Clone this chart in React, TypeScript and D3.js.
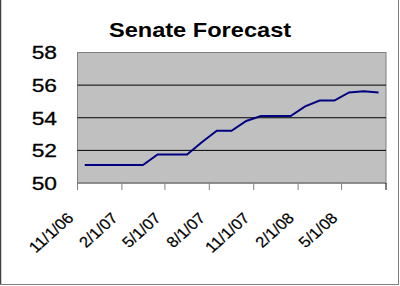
import { scaleLinear, scaleTime, line, timeMonth } from "d3";

// monthly forecast, Nov 2006 - Jul 2008
const months = [
  "2006-11", "2006-12", "2007-01", "2007-02", "2007-03", "2007-04", "2007-05",
  "2007-06", "2007-07", "2007-08", "2007-09", "2007-10", "2007-11", "2007-12",
  "2008-01", "2008-02", "2008-03", "2008-04", "2008-05", "2008-06", "2008-07",
];
const seats = [
  51.1, 51.1, 51.1, 51.1, 51.1, 51.75, 51.75,
  51.75, 52.5, 53.2, 53.2, 53.8, 54.1, 54.1,
  54.1, 54.7, 55.05, 55.05, 55.55, 55.62, 55.55,
];
const yTicks = [50, 52, 54, 56, 58];
const xTickLabels = ["11/1/06", "2/1/07", "5/1/07", "8/1/07", "11/1/07", "2/1/08", "5/1/08"];

const W = 400;
const H = 286;
const plot = { left: 77.5, right: 386, top: 52.5, bottom: 183 };

export default function App() {
  const start = new Date(2006, 10, 1);
  const end = new Date(2008, 7, 1);
  const x = scaleTime().domain([start, end]).range([plot.left, plot.right]);
  const y = scaleLinear().domain([50, 58]).range([plot.bottom, plot.top]);

  // points sit mid-month (between tick marks)
  const points = months.map((m, i) => {
    const [yr, mo] = m.split("-").map(Number);
    const d0 = new Date(yr, mo - 1, 1);
    const d1 = timeMonth.offset(d0, 1);
    const mid = new Date((d0.getTime() + d1.getTime()) / 2);
    return [x(mid), y(seats[i])] as [number, number];
  });

  const ticks = timeMonth.range(start, timeMonth.offset(end, 1), 3);
  const path = line()(points) ?? "";

  return (
    <svg
      width={W}
      height={H}
      style={{ position: "absolute", left: 0, top: 0, fontFamily: "Arial, 'Liberation Sans', sans-serif" }}
    >
      <rect x={0} y={0} width={W} height={H} fill="#fff" />
      {/* outer frame */}
      <line x1={0.5} y1={0} x2={0.5} y2={285} stroke="#404040" strokeWidth={1.5} />
      <line x1={0} y1={284.5} x2={399} y2={284.5} stroke="#808080" />
      <line x1={398.5} y1={0} x2={398.5} y2={285} stroke="#808080" />

      <text transform="translate(200,37) scale(1.18,1)" textAnchor="middle" fontSize={20} fontWeight="bold">
        Senate Forecast
      </text>

      <rect
        x={plot.left}
        y={plot.top}
        width={plot.right - plot.left}
        height={plot.bottom - plot.top}
        fill="#c0c0c0"
        stroke="#808080"
      />
      {yTicks.slice(1, -1).map((t) => (
        <line key={t} x1={plot.left} x2={plot.right} y1={y(t)} y2={y(t)} stroke="#000" strokeWidth={1} />
      ))}
      {yTicks.map((t) => (
        <text
          key={t}
          transform={`translate(57,${y(t)}) scale(1.2,1)`}
          dy="0.36em"
          textAnchor="end"
          fontSize={19}
          stroke="#000"
          strokeWidth={0.3}
        >
          {t}
        </text>
      ))}

      <line x1={plot.left} x2={plot.right} y1={plot.bottom} y2={plot.bottom} stroke="#808080" strokeWidth={1.5} />
      {ticks.map((t, i) => (
        <g key={i} transform={`translate(${x(t)},${plot.bottom})`}>
          <line y1={0} y2={7} stroke={i === ticks.length - 1 ? "#000" : "#808080"} />
          {xTickLabels[i] && (
            <text
              transform="translate(-3,36) scale(1.12,1) rotate(-45)"
              textAnchor="end"
              fontSize={15}
              stroke="#000"
              strokeWidth={0.2}
            >
              {xTickLabels[i]}
            </text>
          )}
        </g>
      ))}

      <path d={path} fill="none" stroke="#000080" strokeWidth={2} />
    </svg>
  );
}
